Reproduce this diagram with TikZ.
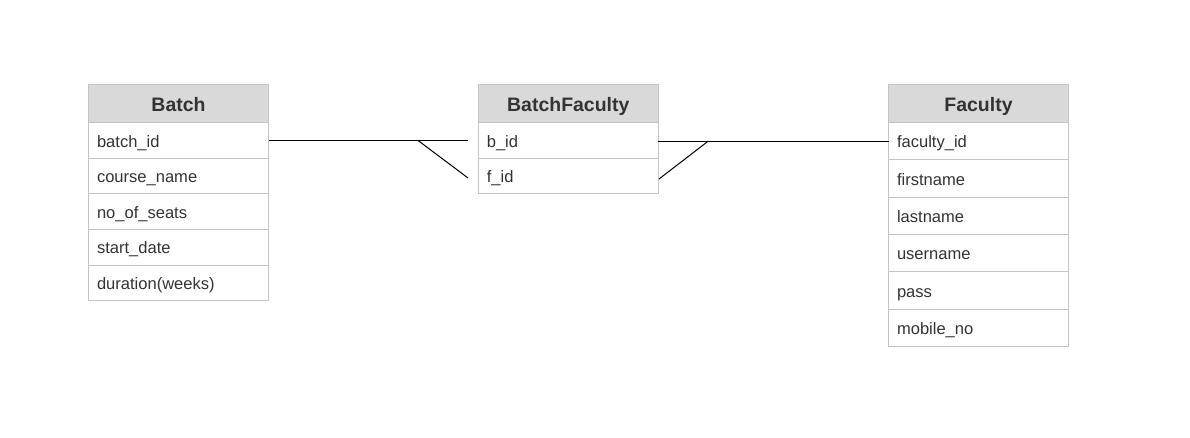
\documentclass[tikz,border=0pt]{standalone}
\usepackage{fontspec}
\setmainfont{Liberation Sans}
\definecolor{bordergray}{HTML}{C4C4C4}
\definecolor{hdrfill}{HTML}{D9D9D9}
\definecolor{txtgray}{HTML}{333333}
\begin{document}
\begin{tikzpicture}[x=0.75pt,y=-0.75pt,
  hdr/.style={draw=bordergray, line width=0.75pt, fill=hdrfill, anchor=north west,
    outer sep=0pt, text width=122.2pt, inner xsep=6.4pt, inner ysep=0pt, align=center,
    text height=19.9pt, text depth=8.7pt, text=txtgray,
    font=\fontsize{14.6}{17}\selectfont\bfseries},
  cell/.style={draw=bordergray, line width=0.75pt, fill=white, anchor=north west,
    outer sep=0pt, text width=122.2pt, inner xsep=6.4pt, inner ysep=0pt, align=left,
    text height=18.35pt, text depth=8.35pt, text=txtgray,
    font=\fontsize{12.4}{15}\selectfont},
  tallcell/.style={cell, text height=19pt, text depth=9pt},
  rel/.style={draw=black, line width=0.75pt}]
\useasboundingbox (0,0) rectangle (1190,437);
\fill[white] (0,0) rectangle (1190,437);
% Batch
\node[hdr] (bh) at (88.5,84.5) {Batch};
\node[cell] (b1) at (bh.south west) {batch\_id};
\node[cell] (b2) at (b1.south west) {course\_name};
\node[cell] (b3) at (b2.south west) {no\_of\_seats};
\node[cell] (b4) at (b3.south west) {start\_date};
\node[cell] (b5) at (b4.south west) {duration(weeks)};
% BatchFaculty
\node[hdr] (bfh) at (478.3,84.5) {BatchFaculty};
\node[cell] (bf1) at (bfh.south west) {b\_id};
\node[cell] (bf2) at (bf1.south west) {f\_id};
% Faculty
\node[hdr] (fh) at (888.5,84.5) {Faculty};
\node[tallcell] (f1) at (fh.south west) {faculty\_id};
\node[tallcell] (f2) at (f1.south west) {firstname};
\node[tallcell] (f3) at (f2.south west) {lastname};
\node[tallcell] (f4) at (f3.south west) {username};
\node[tallcell] (f5) at (f4.south west) {pass};
\node[tallcell] (f6) at (f5.south west) {mobile\_no};
% connectors
\coordinate (lend) at (468,0 |- b1.east);
\coordinate (lfork) at (418,0 |- b1.east);
\coordinate (lfoot) at (468,178);
\draw[rel] (b1.east) -- (lend);
\draw[rel] (lfork) -- (lfoot);
\coordinate (rfork) at (708,0 |- f1.west);
\coordinate (rfoot) at (659,179);
\draw[rel] (bf1.east |- f1.west) -- (f1.west);
\draw[rel] (rfoot) -- (rfork);
\end{tikzpicture}
\end{document}
